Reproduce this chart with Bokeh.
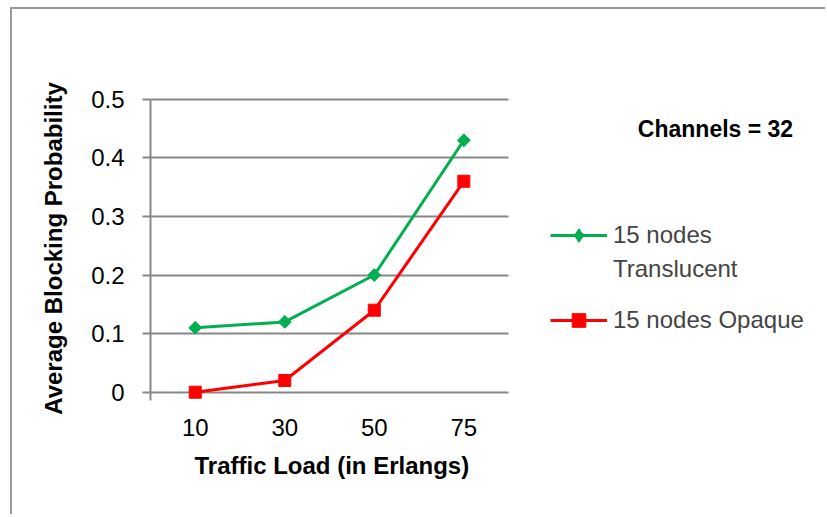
import numpy as np
from bokeh.plotting import figure
from bokeh.models import (Range1d, FixedTicker, Legend, LegendItem, Label, Title,
                          ColumnDataSource)
from bokeh.embed import file_html
from bokeh.resources import INLINE

# ---- data ----
loads = ["10", "30", "50", "75"]
translucent = [0.11, 0.12, 0.20, 0.43]
opaque = [0.0, 0.02, 0.14, 0.36]
y_ticks = [0, 0.1, 0.2, 0.3, 0.4, 0.5]
y_tick_labels = ["0", "0.1", "0.2", "0.3", "0.4", "0.5"]
legend_labels = ["15 nodes", "Translucent", "15 nodes Opaque"]
note_text = "Channels = 32"
x_title = "Traffic Load (in Erlangs)"
y_title = "Average Blocking Probability"

GREEN = "#00B050"
RED = "#FF0000"
GRID = "#878787"
FONT = "Liberation Sans"

# category slots: category i is centred in slot [i, i+1]
n_cat = len(loads)
x_pos = [i + 0.5 for i in range(n_cat)]

p = figure(x_range=Range1d(0, 7.54), y_range=Range1d(-0.0124, 0.503),
           frame_width=675, frame_height=302,
           min_border_left=138, min_border_right=0,
           min_border_top=88, min_border_bottom=115,
           output_backend="svg", toolbar_location=None)
p.styles = {"border-left": "2px solid #9a9a9a", "border-top": "2px solid #9a9a9a",
            "margin-left": "10px", "margin-top": "7px"}
p.outline_line_color = None
p.background_fill_color = "white"
p.border_fill_color = "white"

# y axis
p.yaxis.ticker = FixedTicker(ticks=y_ticks)
p.yaxis.major_label_overrides = dict(zip(y_ticks, y_tick_labels))
p.yaxis.bounds = (0, 0.5)
p.yaxis.axis_line_color = GRID
p.yaxis.axis_line_width = 2
p.yaxis.major_tick_line_color = GRID
p.yaxis.major_tick_line_width = 2
p.yaxis.major_tick_out = 8
p.yaxis.major_tick_in = 0
p.yaxis.minor_tick_line_color = None
p.yaxis.major_label_standoff = 18
p.yaxis.axis_label = y_title
p.yaxis.axis_label_standoff = 21

# x axis (categories); the zero gridline acts as its line
p.xaxis.ticker = FixedTicker(ticks=x_pos, minor_ticks=[0])
p.xaxis.major_label_overrides = dict(zip(x_pos, loads))
p.xaxis.axis_line_color = None
p.xaxis.major_tick_line_color = None
p.xaxis.major_tick_out = 0
p.xaxis.major_tick_in = 0
p.xaxis.minor_tick_line_color = GRID
p.xaxis.minor_tick_line_width = 2
p.xaxis.minor_tick_out = 1
p.xaxis.minor_tick_in = 7
p.xaxis.major_label_standoff = 18

for ax in (p.xaxis, p.yaxis):
    ax.major_label_text_font = FONT
    ax.major_label_text_font_size = "24px"
    ax.major_label_text_color = "black"
    ax.axis_label_text_font = FONT
    ax.axis_label_text_font_size = "24px"
    ax.axis_label_text_font_style = "bold"
    ax.axis_label_text_color = "black"

p.add_layout(Title(text=x_title, align="left", offset=44, standoff=23,
                   text_font=FONT, text_font_size="24px", text_font_style="bold",
                   text_color="black"), "below")

p.xgrid.visible = False
p.ygrid.ticker = FixedTicker(ticks=y_ticks)
p.ygrid.cross_bounds = (0, n_cat)
p.ygrid.grid_line_color = GRID
p.ygrid.grid_line_width = 2

# series
src = ColumnDataSource(dict(x=x_pos, t=translucent, o=opaque))
g_line = p.line("x", "t", source=src, line_color=GREEN, line_width=3)
g_pts = p.scatter("x", "t", source=src, marker="square", angle=np.pi / 4, size=9,
                  fill_color=GREEN, line_color=GREEN)
# diamond key that sits inside the rotated squares (used for the legend swatch)
g_key = p.scatter("x", "t", source=src, marker="diamond", size=12,
                  fill_color=GREEN, line_color=GREEN)
r_line = p.line("x", "o", source=src, line_color=RED, line_width=3)
r_pts = p.scatter("x", "o", source=src, marker="square", size=12,
                  fill_color=RED, line_color=RED)
blank = p.scatter(x=[], y=[], fill_alpha=0, line_alpha=0)

common = dict(padding=0, spacing=0, glyph_width=57, glyph_height=34, label_height=34,
              label_standoff=6, border_line_color=None, background_fill_alpha=0,
              label_text_font=FONT, label_text_font_size="24px", margin=0)
leg_a = Legend(items=[LegendItem(label=legend_labels[0], renderers=[g_line, g_key]),
                      LegendItem(label=legend_labels[1], renderers=[blank])],
               location=(400, 113), **common)
leg_b = Legend(items=[LegendItem(label=legend_labels[2], renderers=[r_line, r_pts])],
               location=(400, 62), **common)
p.add_layout(leg_a)
p.add_layout(leg_b)

note = Label(x=565, y=271, x_units="screen", y_units="screen", text=note_text,
             text_font=FONT, text_font_size="23px", text_font_style="bold",
             text_align="center", text_baseline="middle", text_color="black")
p.add_layout(note)

open("out.html", "w").write(file_html(p, INLINE))
